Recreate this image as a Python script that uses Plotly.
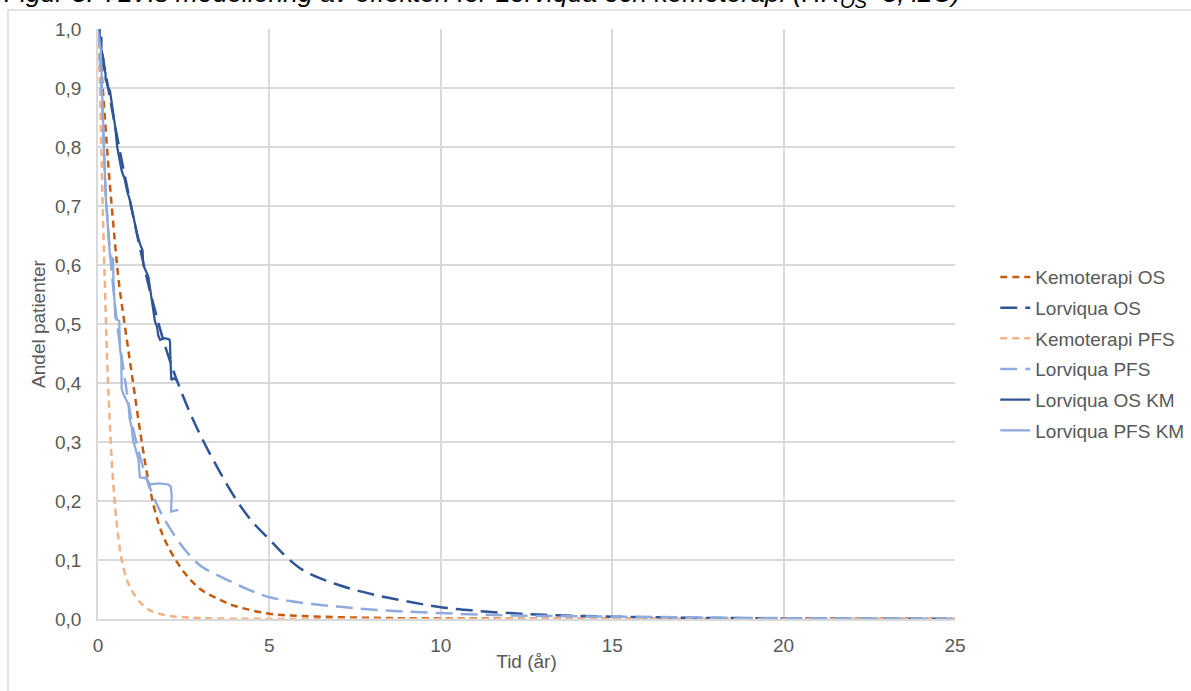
import plotly.graph_objects as go

# ---- Data ----
kemo_os_t = [0, 0.1, 0.2, 0.3, 0.4, 0.5, 0.6, 0.8, 1.0, 1.25, 1.5, 1.75, 2.0, 2.5, 3.0, 3.5, 4.0, 5, 6, 8, 10, 15, 25]
kemo_os_s = [1.0, 0.93, 0.85, 0.77, 0.70, 0.635, 0.575, 0.49, 0.41, 0.31, 0.225, 0.165, 0.128, 0.08, 0.05, 0.034, 0.022, 0.009, 0.005, 0.002, 0.001, 0.0003, 0.0]

lorv_os_t = [0, 0.5, 1.0, 1.5, 2.0, 2.5, 3.0, 3.5, 4.0, 4.5, 5.0, 5.5, 6.0, 7.0, 8.0, 9.0, 10, 11, 12, 13, 15, 17.5, 20, 25]
lorv_os_s = [1.0, 0.835, 0.69, 0.56, 0.455, 0.375, 0.31, 0.255, 0.205, 0.165, 0.135, 0.105, 0.082, 0.058, 0.042, 0.03, 0.02, 0.014, 0.01, 0.007, 0.004, 0.002, 0.001, 0.0003]

kemo_pfs_t = [0, 0.05, 0.1, 0.15, 0.2, 0.25, 0.3, 0.4, 0.5, 0.6, 0.7, 0.85, 1.0, 1.25, 1.5, 2.0, 2.5, 3, 4, 6, 10, 25]
kemo_pfs_s = [1.0, 0.92, 0.79, 0.67, 0.57, 0.47, 0.39, 0.27, 0.19, 0.135, 0.098, 0.065, 0.047, 0.027, 0.015, 0.006, 0.003, 0.0015, 0.0005, 0.0001, 0.0, 0.0]

lorv_pfs_t = [0, 0.1, 0.25, 0.5, 0.75, 1.0, 1.25, 1.5, 1.75, 2.0, 2.5, 3.0, 3.5, 4.0, 4.5, 5.0, 6, 7, 8.23, 10, 12, 15, 20, 25]
lorv_pfs_s = [1.0, 0.9, 0.70, 0.53, 0.42, 0.33, 0.27, 0.225, 0.19, 0.163, 0.12, 0.09, 0.074, 0.06, 0.047, 0.037, 0.027, 0.021, 0.015, 0.01, 0.006, 0.004, 0.0015, 0.0005]

lorv_os_km_t = [0.00, 0.05, 0.05, 0.10, 0.10, 0.155, 0.155, 0.22, 0.22, 0.30, 0.35, 0.40, 0.45, 0.50, 0.56, 0.62, 0.69, 0.78, 0.85, 0.93, 1.00, 1.08, 1.15, 1.23, 1.30, 1.32, 1.40, 1.47, 1.52, 1.57, 1.62, 1.66, 1.72, 1.76, 1.81, 1.95, 2.08, 2.10, 2.11, 2.12, 2.14, 2.20, 2.29]
lorv_os_km_s = [1.000, 1.000, 0.985, 0.985, 0.965, 0.950, 0.936, 0.925, 0.915, 0.900, 0.895, 0.875, 0.860, 0.835, 0.800, 0.780, 0.760, 0.745, 0.725, 0.710, 0.690, 0.665, 0.650, 0.635, 0.625, 0.600, 0.590, 0.580, 0.560, 0.540, 0.520, 0.505, 0.495, 0.480, 0.473, 0.476, 0.474, 0.470, 0.445, 0.430, 0.405, 0.408, 0.405]

lorv_pfs_km_t = [0.00, 0.03, 0.08, 0.10, 0.14, 0.18, 0.22, 0.27, 0.31, 0.35, 0.44, 0.45, 0.50, 0.51, 0.62, 0.62, 0.64, 0.68, 0.69, 0.75, 0.89, 0.92, 0.98, 1.03, 1.08, 1.18, 1.22, 1.42, 1.47, 1.80, 2.05, 2.12, 2.15, 2.13, 2.22, 2.34]
lorv_pfs_km_s = [1.000, 0.985, 0.965, 0.930, 0.850, 0.780, 0.720, 0.680, 0.640, 0.614, 0.610, 0.575, 0.518, 0.510, 0.505, 0.470, 0.460, 0.440, 0.390, 0.380, 0.363, 0.340, 0.326, 0.300, 0.292, 0.270, 0.240, 0.238, 0.228, 0.230, 0.228, 0.225, 0.210, 0.182, 0.183, 0.185]

names = ["Kemoterapi OS", "Lorviqua OS", "Kemoterapi PFS", "Lorviqua PFS", "Lorviqua OS KM", "Lorviqua PFS KM"]
x_ticks = [0, 5, 10, 15, 20, 25]
y_ticks = [0.0, 0.1, 0.2, 0.3, 0.4, 0.5, 0.6, 0.7, 0.8, 0.9, 1.0]

title_text = "Figur 3. TLV:s modellering av effekten för Lorviqua och kemoterapi (HR<sub>OS</sub>=3, i2C)"

# ---- Styles ----
c_kemo_os = "#C55A11"
c_lorv_os = "#2F5597"
c_kemo_pfs = "#F4B183"
c_lorv_pfs = "#8FAADC"
FONT = "Arial, Liberation Sans, sans-serif"
TXT = "#595959"
GRID = "#D9D9D9"

fig = go.Figure()
series = [
    (kemo_os_t, kemo_os_s, c_kemo_os, "7px,5px", "spline", 2.5),
    (lorv_os_t, lorv_os_s, c_lorv_os, "17px,8px", "spline", 2.5),
    (kemo_pfs_t, kemo_pfs_s, c_kemo_pfs, "7px,5px", "spline", 2.5),
    (lorv_pfs_t, lorv_pfs_s, c_lorv_pfs, "17px,8px", "spline", 2.5),
    (lorv_os_km_t, lorv_os_km_s, c_lorv_os, "solid", "linear", 2.25),
    (lorv_pfs_km_t, lorv_pfs_km_s, c_lorv_pfs, "solid", "linear", 2.25),
]
for i, (t, s, col, dash, shape, w) in enumerate(series):
    fig.add_trace(go.Scatter(
        x=t, y=s, mode="lines", name=names[i], legendgroup=f"g{i}",
        line=dict(color=col, dash=dash, width=w, shape=shape),
    ))

fig.update_layout(
    width=1191, height=691,
    margin=dict(l=98, r=236, t=29, b=72, autoexpand=False),
    paper_bgcolor="white", plot_bgcolor="white",
    separators=", ",
    font=dict(family=FONT, size=19, color=TXT),
    showlegend=True,
    legend=dict(x=1.047, y=0.449, xanchor="left", yanchor="middle",
                font=dict(family=FONT, size=19, color=TXT),
                tracegroupgap=3, bgcolor="rgba(0,0,0,0)"),
    xaxis=dict(range=[0, 25], tickvals=x_ticks, tickformat="d",
               showgrid=True, gridcolor=GRID, gridwidth=1.5,
               showline=True, linecolor=GRID, linewidth=1.5,
               zeroline=False, ticks="", ticklabelstandoff=8,
               tickfont=dict(size=19, color=TXT),
               title=dict(text="Tid (år)", font=dict(size=19, color=TXT), standoff=0)),
    yaxis=dict(range=[0, 1.0], tickvals=y_ticks, tickformat=".1f",
               showgrid=True, gridcolor=GRID, gridwidth=1.5,
               showline=True, linecolor=GRID, linewidth=1.5,
               zeroline=False, ticks="", ticklabelstandoff=11,
               tickfont=dict(size=19, color=TXT),
               title=dict(text="Andel patienter", font=dict(size=19, color=TXT), standoff=4)),
)

# chart-area border (Excel style)
fig.add_shape(type="rect", xref="paper", yref="paper",
              x0=(8 - 98) / 857, x1=1 + (1195 - 955) / 857,
              y0=-(700 - 619) / 590, y1=1 + (29 - 10) / 590,
              line=dict(color=GRID, width=1.5), fillcolor="rgba(0,0,0,0)", layer="below")

# title (cropped at top edge in the reference)
fig.add_annotation(text="<i>" + title_text + "</i>", xref="paper", yref="paper",
                   x=(2 - 98) / 857, y=1 + (29 - 14) / 590,
                   xanchor="left", yanchor="bottom", showarrow=False,
                   font=dict(family=FONT, size=26.5, color="black"))

fig.write_html("out.html", config={"displayModeBar": False},
               post_script="document.body.style.margin='0px';")
